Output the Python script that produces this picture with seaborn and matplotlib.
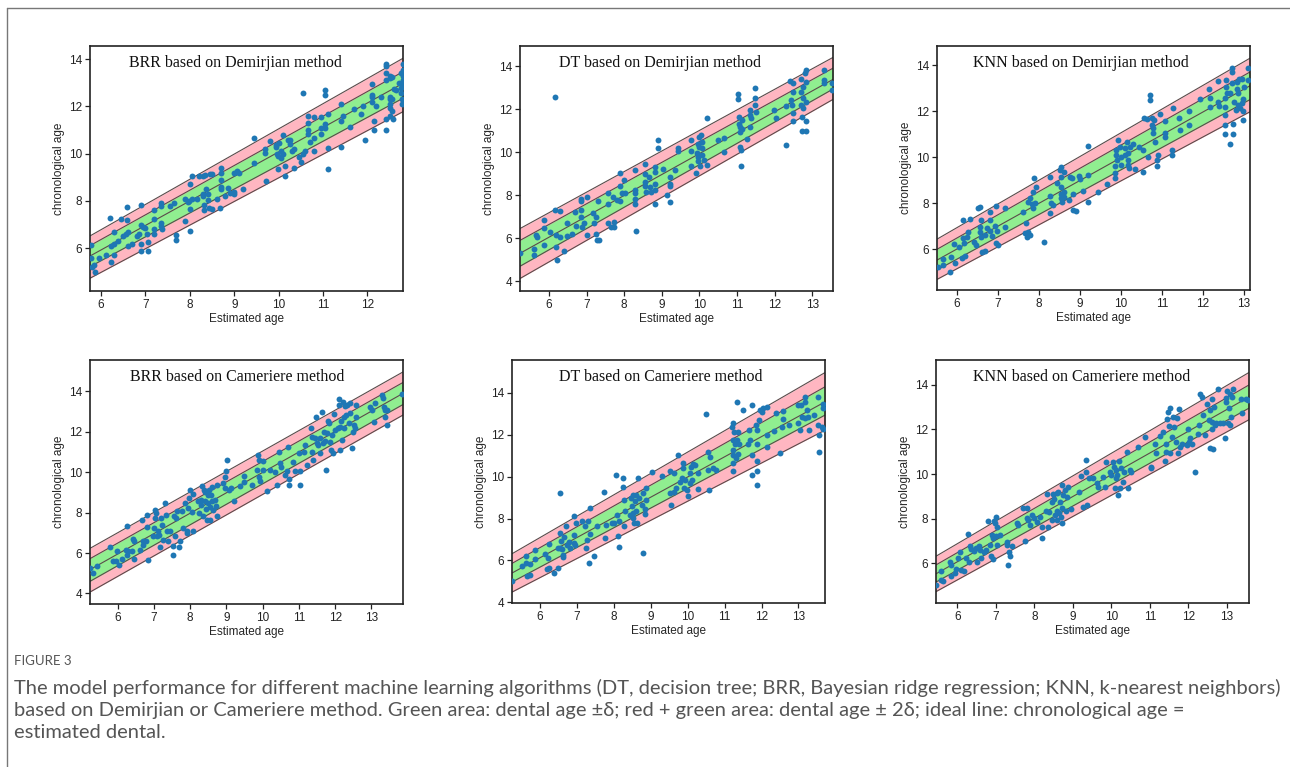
import matplotlib
matplotlib.use("Agg")
import matplotlib.pyplot as plt
from matplotlib.lines import Line2D
from matplotlib.ticker import MultipleLocator
import seaborn as sns

# ---------------- data ----------------
titles = ["BRR based on Demirjian method", "DT based on Demirjian method",
          "KNN based on Demirjian method", "BRR based on Cameriere method",
          "DT based on Cameriere method", "KNN based on Cameriere method"]

brr_dem_x = [5.78, 5.78, 5.8, 5.85, 5.87, 5.95, 6.1, 6.2, 6.22, 6.22,
             6.28, 6.3, 6.3, 6.38, 6.45, 6.5, 6.55, 6.58, 6.58, 6.6,
             6.6, 6.7, 6.8, 6.85, 6.9, 6.9, 6.9, 6.9, 6.95, 7.0,
             7.03, 7.05, 7.05, 7.2, 7.2, 7.2, 7.2, 7.35, 7.35, 7.35,
             7.35, 7.37, 7.55, 7.65, 7.68, 7.68, 7.9, 7.9, 7.95, 7.98,
             8.0, 8.0, 8.0, 8.05, 8.05, 8.15, 8.2, 8.3, 8.3, 8.3,
             8.32, 8.32, 8.35, 8.37, 8.4, 8.4, 8.42, 8.45, 8.5, 8.5,
             8.6, 8.7, 8.7, 8.7, 8.7, 8.7, 8.68, 8.8, 8.85, 8.9,
             9.0, 9.0, 9.0, 9.05, 9.1, 9.2, 9.45, 9.45, 9.7, 9.7,
             9.72, 9.8, 9.95, 9.95, 9.97, 9.98, 9.98, 10.0, 10.05, 10.05,
             10.1, 10.1, 10.15, 10.15, 10.2, 10.25, 10.25, 10.3, 10.35, 10.35,
             10.45, 10.5, 10.55, 10.55, 10.6, 10.65, 10.65, 10.65, 10.65, 10.7,
             10.8, 10.8, 10.8, 10.95, 10.95, 10.95, 11.05, 11.05, 11.05, 11.05,
             11.1, 11.1, 11.1, 11.4, 11.4, 11.4, 11.45, 11.6, 11.7, 11.85,
             11.9, 11.95, 12.1, 12.1, 12.1, 12.1, 12.15, 12.15, 12.2, 12.3,
             12.42, 12.42, 12.42, 12.42, 12.42, 12.42, 12.5, 12.5, 12.5, 12.5,
             12.5, 12.5, 12.5, 12.55, 12.55, 12.55, 12.58, 12.6, 12.65, 12.7,
             12.75, 12.75, 12.75, 12.78, 12.78, 12.8, 12.8, 12.8, 12.8, 12.8]
brr_dem_y = [6.15, 5.6, 5.2, 5.3, 5.0, 5.6, 5.7, 7.3, 6.1, 5.4,
             6.7, 6.2, 5.7, 6.3, 7.25, 6.5, 6.6, 7.75, 7.2, 6.7,
             6.1, 6.2, 6.5, 6.6, 7.85, 7.0, 6.2, 5.9, 6.9, 6.85,
             6.6, 6.25, 5.9, 7.6, 7.25, 6.8, 6.6, 7.9, 7.8, 7.05,
             6.95, 6.8, 7.8, 7.9, 6.55, 6.35, 7.15, 8.1, 7.95, 8.0,
             8.7, 7.65, 6.75, 8.1, 9.05, 8.1, 9.05, 9.05, 8.3, 8.2,
             7.85, 7.6, 9.1, 8.5, 8.3, 8.05, 7.7, 9.15, 9.15, 7.65,
             8.1, 9.4, 9.2, 8.9, 8.6, 8.5, 7.7, 8.2, 8.55, 8.35,
             9.2, 8.4, 8.3, 9.25, 9.2, 8.5, 10.65, 9.6, 10.2, 10.05,
             8.85, 10.55, 10.35, 10.3, 10.0, 9.9, 9.35, 10.45, 10.1, 9.8,
             10.8, 10.0, 9.5, 9.05, 10.6, 10.6, 10.4, 10.1, 9.4, 10.2,
             9.85, 9.65, 12.55, 10.0, 10.1, 11.6, 11.3, 11.0, 10.85, 10.5,
             11.55, 10.65, 10.1, 11.55, 11.1, 10.85, 12.7, 12.5, 11.25, 11.1,
             11.7, 10.25, 9.35, 12.1, 11.4, 10.3, 11.6, 11.15, 11.9, 11.7,
             12.0, 10.6, 12.95, 12.5, 12.4, 12.2, 11.4, 11.0, 12.0, 12.4,
             13.8, 13.7, 13.4, 13.1, 11.45, 11.0, 13.3, 13.2, 12.4, 12.3,
             12.1, 11.95, 11.6, 13.25, 12.3, 11.8, 11.45, 12.75, 12.7, 13.0,
             13.4, 12.8, 12.55, 12.3, 12.1, 13.8, 13.55, 13.3, 13.1, 12.9]

dt_dem_x = [5.22, 5.6, 5.6, 5.66, 5.69, 5.86, 5.86, 5.88, 6.03, 6.17,
            6.17, 6.2, 6.2, 6.21, 6.28, 6.3, 6.4, 6.48, 6.48, 6.6,
            6.7, 6.71, 6.84, 6.84, 6.84, 6.86, 6.87, 6.93, 7.0, 7.01,
            7.17, 7.2, 7.24, 7.26, 7.28, 7.33, 7.31, 7.56, 7.56, 7.56,
            7.64, 7.71, 7.72, 7.72, 7.8, 7.88, 7.9, 7.9, 7.93, 7.99,
            8.02, 8.28, 8.3, 8.3, 8.3, 8.3, 8.32, 8.55, 8.55, 8.55,
            8.55, 8.57, 8.67, 8.68, 8.72, 8.81, 8.83, 8.83, 8.83, 8.83,
            8.9, 8.9, 9.02, 9.13, 9.22, 9.22, 9.22, 9.22, 9.35, 9.44,
            9.44, 9.78, 9.78, 9.78, 9.9, 9.93, 9.95, 9.96, 9.97, 9.99,
            10.0, 10.02, 10.04, 10.08, 10.08, 10.08, 10.11, 10.2, 10.21, 10.5,
            10.64, 10.64, 11.03, 11.03, 11.06, 11.06, 11.07, 11.07, 11.09, 11.11,
            11.11, 11.13, 11.13, 11.26, 11.35, 11.35, 11.35, 11.38, 11.47, 11.47,
            11.47, 11.51, 11.97, 12.03, 12.3, 12.31, 12.42, 12.44, 12.47, 12.48,
            12.48, 12.48, 12.5, 12.7, 12.7, 12.7, 12.72, 12.72, 12.76, 12.76,
            12.76, 12.8, 12.82, 12.82, 12.84, 12.84, 12.84, 13.31, 13.31, 13.31,
            13.53, 13.53]
dt_dem_y = [5.33, 5.52, 5.2, 6.17, 6.06, 6.87, 6.48, 5.7, 6.3, 12.54,
            7.3, 6.14, 5.6, 4.98, 7.27, 6.06, 5.41, 6.72, 6.09, 6.22,
            7.22, 6.57, 7.75, 7.84, 7.3, 7.0, 6.53, 6.72, 7.9, 6.17,
            7.15, 6.71, 6.22, 7.0, 5.91, 5.91, 7.74, 8.1, 7.6, 6.71,
            6.5, 7.93, 6.76, 6.5, 7.8, 9.05, 8.43, 7.72, 8.08, 8.7,
            8.1, 8.08, 9.16, 8.23, 7.84, 7.58, 6.33, 9.47, 9.0, 8.62,
            8.42, 8.15, 8.85, 8.39, 8.15, 9.09, 9.29, 8.54, 8.23, 7.61,
            10.56, 10.17, 9.2, 8.03, 8.85, 8.54, 8.43, 7.69, 9.16, 10.2,
            10.07, 10.56, 10.07, 9.36, 9.05, 9.94, 9.78, 9.6, 10.4, 10.71,
            10.25, 9.34, 10.79, 10.48, 10.17, 9.86, 9.63, 11.6, 9.42, 10.56,
            10.64, 10.02, 12.7, 12.45, 11.61, 11.3, 11.15, 10.95, 10.25, 10.09,
            9.36, 11.49, 11.06, 10.59, 11.98, 11.72, 11.15, 11.57, 12.96, 12.53,
            12.19, 11.88, 11.95, 11.6, 12.16, 10.33, 13.32, 12.42, 12.19, 12.81,
            11.8, 11.44, 13.22, 13.38, 12.81, 12.19, 11.61, 10.99, 13.04, 12.5,
            12.03, 13.66, 13.81, 13.27, 12.34, 11.44, 10.99, 13.81, 13.35, 13.19,
            13.19, 12.88]

knn_dem_x = [5.54, 5.66, 5.66, 5.82, 5.84, 5.92, 5.94, 6.04, 6.12, 6.15,
             6.15, 6.18, 6.2, 6.24, 6.26, 6.31, 6.41, 6.45, 6.5, 6.55,
             6.55, 6.57, 6.58, 6.59, 6.61, 6.67, 6.69, 6.73, 6.8, 6.81,
             6.81, 6.85, 6.92, 6.96, 6.96, 6.97, 6.99, 7.18, 7.18, 7.62,
             7.66, 7.69, 7.7, 7.73, 7.73, 7.77, 7.79, 7.83, 7.85, 7.85,
             7.87, 7.91, 7.93, 8.13, 8.26, 8.26, 8.27, 8.29, 8.33, 8.44,
             8.52, 8.53, 8.53, 8.54, 8.54, 8.54, 8.56, 8.6, 8.6, 8.61,
             8.74, 8.76, 8.8, 8.82, 8.84, 8.91, 8.98, 9.0, 9.07, 9.2,
             9.19, 9.19, 9.43, 9.65, 9.86, 9.86, 9.86, 9.87, 9.88, 9.9,
             9.94, 9.98, 10.0, 10.0, 10.1, 10.1, 10.14, 10.16, 10.18, 10.18,
             10.2, 10.22, 10.29, 10.34, 10.45, 10.55, 10.55, 10.56, 10.63, 10.67,
             10.71, 10.71, 10.75, 10.77, 10.79, 10.79, 10.81, 10.83, 10.87, 10.87,
             10.91, 10.95, 11.07, 11.07, 11.07, 11.24, 11.24, 11.26, 11.42, 11.44,
             11.67, 11.67, 11.92, 12.15, 12.17, 12.17, 12.37, 12.37, 12.4, 12.53,
             12.53, 12.53, 12.53, 12.53, 12.57, 12.57, 12.59, 12.66, 12.66, 12.72,
             12.72, 12.72, 12.74, 12.74, 12.75, 12.82, 12.83, 12.84, 12.86, 12.86,
             12.88, 12.9, 12.96, 12.96, 12.98, 12.98, 12.99, 13.0, 13.1, 13.1]
knn_dem_y = [5.23, 5.55, 5.3, 5.01, 5.67, 6.22, 5.41, 6.1, 5.59, 7.26,
             6.46, 6.25, 5.7, 6.54, 6.75, 7.29, 6.32, 6.17, 7.77, 7.84,
             6.97, 6.75, 6.54, 7.26, 5.88, 5.93, 6.61, 6.9, 6.8, 7.26,
             7.62, 6.57, 7.01, 6.28, 7.88, 6.8, 6.17, 7.77, 6.97, 7.62,
             6.72, 7.14, 6.51, 8.06, 6.75, 6.61, 8.2, 7.96, 8.49, 7.77,
             9.07, 7.99, 8.71, 6.32, 9.14, 8.3, 7.58, 8.01, 7.91, 8.86,
             9.43, 9.58, 9.14, 8.71, 8.39, 8.2, 8.06, 9.36, 8.49, 8.28,
             8.13, 9.14, 9.07, 8.39, 7.69, 7.67, 9.17, 9.03, 8.54, 10.5,
             9.22, 8.06, 8.49, 8.83, 9.61, 9.32, 9.07, 10.3, 10.09, 9.87,
             10.74, 10.45, 10.01, 9.65, 10.38, 10.09, 10.67, 9.87, 10.16, 9.65,
             9.51, 10.45, 10.59, 9.46, 10.42, 10.3, 9.36, 11.72, 11.64, 10.01,
             12.7, 12.48, 11.68, 11.39, 11.25, 11.03, 11.61, 10.67, 9.87, 9.61,
             10.09, 11.87, 11.58, 11.06, 10.88, 10.3, 10.09, 12.12, 11.68, 11.17,
             12.01, 11.39, 12.51, 12.94, 12.59, 12.19, 13.32, 12.41, 12.22, 12.55,
             12.19, 11.39, 11.0, 11.83, 13.35, 13.06, 12.8, 12.77, 10.59, 13.86,
             13.68, 13.2, 11.46, 11.0, 12.41, 12.04, 12.94, 13.28, 12.77, 12.26,
             13.38, 12.12, 13.38, 12.36, 12.01, 11.61, 12.51, 13.06, 13.86, 13.35]

brr_cam_x = [5.24, 5.31, 5.44, 5.79, 5.88, 5.95, 5.99, 6.05, 6.11, 6.23,
             6.27, 6.27, 6.29, 6.41, 6.43, 6.45, 6.45, 6.62, 6.66, 6.69,
             6.71, 6.78, 6.8, 6.82, 6.83, 6.99, 7.01, 7.03, 7.03, 7.06,
             7.08, 7.12, 7.15, 7.17, 7.19, 7.22, 7.26, 7.31, 7.34, 7.35,
             7.38, 7.45, 7.52, 7.54, 7.56, 7.58, 7.61, 7.65, 7.7, 7.72,
             7.77, 7.8, 7.86, 7.91, 7.92, 7.95, 7.97, 8.0, 8.04, 8.09,
             8.09, 8.23, 8.25, 8.29, 8.31, 8.34, 8.35, 8.38, 8.41, 8.41,
             8.43, 8.46, 8.49, 8.5, 8.53, 8.55, 8.55, 8.57, 8.6, 8.6,
             8.62, 8.69, 8.72, 8.73, 8.75, 8.92, 8.95, 8.97, 8.98, 9.03,
             9.08, 9.13, 9.21, 9.38, 9.49, 9.49, 9.7, 9.84, 9.86, 9.89,
             9.89, 9.93, 10.0, 10.0, 10.13, 10.19, 10.34, 10.39, 10.44, 10.47,
             10.5, 10.62, 10.67, 10.69, 10.74, 10.74, 10.85, 10.9, 10.99, 11.02,
             11.04, 11.15, 11.17, 11.22, 11.34, 11.36, 11.36, 11.4, 11.45, 11.48,
             11.5, 11.54, 11.57, 11.59, 11.64, 11.67, 11.69, 11.73, 11.76, 11.78,
             11.8, 11.82, 11.87, 11.88, 11.91, 11.94, 11.98, 12.0, 12.07, 12.1,
             12.1, 12.12, 12.14, 12.16, 12.19, 12.22, 12.23, 12.25, 12.28, 12.31,
             12.33, 12.37, 12.4, 12.42, 12.47, 12.49, 12.51, 12.56, 12.58, 12.58,
             12.97, 13.02, 13.06, 13.11, 13.29, 13.32, 13.34, 13.36, 13.38, 13.43,
             13.43, 13.85]
brr_cam_y = [5.26, 5.02, 5.35, 6.3, 5.59, 5.59, 6.12, 5.43, 5.72, 6.17,
             7.32, 5.92, 6.09, 6.09, 6.69, 6.58, 5.72, 6.17, 7.65, 6.41,
             6.58, 6.58, 7.27, 7.89, 5.67, 6.82, 7.23, 8.14, 7.73, 7.97,
             6.82, 7.07, 6.91, 6.28, 7.73, 7.4, 6.66, 8.47, 7.89, 7.07,
             6.58, 7.07, 6.33, 5.92, 7.81, 6.82, 7.73, 8.06, 6.28, 6.61,
             8.09, 7.23, 8.47, 7.07, 6.99, 8.22, 8.71, 9.12, 8.02, 7.07,
             8.91, 8.55, 7.97, 8.38, 8.63, 9.29, 7.81, 9.12, 9.04, 8.55,
             8.19, 7.65, 8.88, 8.47, 9.12, 8.25, 7.65, 8.88, 8.55, 9.24,
             8.14, 8.6, 8.3, 9.37, 7.81, 9.45, 9.21, 9.78, 10.06, 10.6,
             9.12, 9.21, 8.55, 9.29, 9.83, 9.53, 9.37, 10.11, 10.85, 10.6,
             9.78, 9.57, 10.55, 10.11, 9.07, 10.11, 9.99, 9.37, 11.01, 10.44,
             10.27, 9.86, 10.03, 11.26, 9.65, 9.37, 10.52, 10.03, 10.93, 9.37,
             10.03, 10.98, 11.34, 10.36, 12.16, 11.75, 11.01, 10.6, 11.7, 12.74,
             11.42, 11.34, 11.7, 10.93, 12.98, 11.42, 12.0, 11.54, 10.11, 11.92,
             12.52, 12.41, 11.47, 11.1, 11.83, 10.93, 12.85, 12.08, 12.16, 13.61,
             13.31, 11.1, 12.24, 12.52, 11.59, 13.47, 12.74, 12.19, 13.28, 12.82,
             13.34, 12.41, 13.39, 12.9, 11.18, 12.0, 12.33, 12.19, 13.31, 12.74,
             13.23, 13.06, 12.49, 13.39, 13.8, 13.64, 13.23, 13.06, 12.74, 13.06,
             12.33, 13.84]

dt_cam_x = [5.24, 5.51, 5.63, 5.63, 5.65, 5.72, 5.74, 5.86, 5.86, 6.14,
            6.19, 6.21, 6.23, 6.25, 6.39, 6.48, 6.48, 6.53, 6.55, 6.55,
            6.57, 6.6, 6.62, 6.62, 6.66, 6.69, 6.73, 6.78, 6.8, 6.91,
            6.91, 6.93, 6.96, 6.98, 7.14, 7.23, 7.25, 7.27, 7.29, 7.32,
            7.34, 7.36, 7.45, 7.54, 7.72, 7.77, 7.78, 7.95, 7.99, 8.06,
            8.08, 8.1, 8.13, 8.15, 8.26, 8.26, 8.28, 8.28, 8.31, 8.44,
            8.47, 8.5, 8.53, 8.53, 8.53, 8.55, 8.58, 8.6, 8.61, 8.62,
            8.65, 8.67, 8.77, 8.78, 8.8, 8.85, 8.85, 8.88, 8.88, 9.03,
            9.3, 9.51, 9.53, 9.55, 9.63, 9.63, 9.69, 9.75, 9.8, 9.85,
            9.86, 9.87, 9.9, 9.93, 9.98, 10.02, 10.05, 10.07, 10.08, 10.11,
            10.14, 10.2, 10.27, 10.29, 10.5, 10.54, 10.54, 10.59, 10.61, 10.68,
            10.77, 11.21, 11.22, 11.23, 11.24, 11.24, 11.24, 11.24, 11.26, 11.28,
            11.3, 11.33, 11.33, 11.35, 11.37, 11.4, 11.51, 11.64, 11.67, 11.69,
            11.73, 11.73, 11.73, 11.85, 11.87, 11.87, 11.87, 11.87, 11.87, 11.92,
            11.96, 12.01, 12.05, 12.14, 12.14, 12.16, 12.34, 12.39, 12.5, 12.55,
            12.57, 12.57, 12.74, 13.0, 13.0, 13.04, 13.07, 13.11, 13.18, 13.18,
            13.18, 13.22, 13.27, 13.29, 13.43, 13.54, 13.54, 13.56, 13.56, 13.63,
            13.66, 13.66, 13.67]
dt_cam_y = [5.01, 5.73, 6.2, 5.89, 5.25, 5.33, 5.81, 6.52, 6.09, 6.31,
            5.57, 6.12, 6.8, 5.65, 5.41, 5.65, 6.6, 6.6, 9.21, 7.31,
            6.92, 6.55, 6.28, 6.16, 7.11, 7.63, 6.76, 6.88, 6.6, 8.1,
            7.23, 6.84, 6.76, 7.79, 7.9, 7.63, 6.6, 7.0, 7.87, 5.89,
            8.5, 7.28, 6.2, 7.63, 9.29, 7.07, 7.71, 7.79, 7.79, 10.09,
            8.18, 7.15, 6.63, 7.87, 9.93, 9.53, 8.9, 7.63, 8.34, 8.18,
            8.98, 8.58, 9.13, 8.26, 8.02, 7.79, 8.82, 9.13, 8.37, 7.79,
            9.93, 8.98, 8.63, 6.36, 9.21, 8.45, 8.21, 8.9, 9.45, 10.21,
            10.01, 10.28, 9.21, 8.66, 10.17, 9.29, 9.45, 11.04, 9.77, 9.96,
            10.4, 10.64, 9.45, 9.85, 9.37, 9.06, 10.17, 9.69, 10.48, 9.85,
            10.59, 10.56, 9.42, 10.17, 12.97, 11.19, 10.32, 9.37, 10.96, 10.4,
            10.32, 12.38, 11.75, 11.27, 12.54, 11.04, 10.64, 10.28, 12.15, 11.54,
            10.88, 13.57, 11.75, 12.12, 11.07, 11.58, 13.18, 11.58, 12.22, 11.75,
            13.41, 10.09, 11.04, 12.46, 12.22, 11.58, 10.75, 10.28, 9.61, 12.7,
            13.18, 13.1, 13.29, 13.33, 11.99, 11.43, 12.18, 13.06, 11.12, 12.38,
            12.75, 13.14, 12.49, 13.41, 12.54, 12.22, 13.41, 12.86, 13.81, 13.57,
            12.78, 13.18, 12.86, 12.22, 12.94, 13.81, 12.46, 11.99, 11.16, 12.38,
            13.49, 13.26, 12.3]

knn_cam_x = [5.46, 5.57, 5.59, 5.62, 5.81, 5.83, 5.85, 5.94, 5.98, 6.03,
             6.07, 6.09, 6.17, 6.24, 6.29, 6.31, 6.33, 6.37, 6.44, 6.48,
             6.52, 6.57, 6.6, 6.63, 6.69, 6.76, 6.8, 6.85, 6.87, 6.89,
             6.92, 6.93, 6.95, 6.98, 7.0, 7.0, 7.02, 7.04, 7.11, 7.28,
             7.29, 7.32, 7.35, 7.38, 7.41, 7.56, 7.58, 7.71, 7.75, 7.8,
             7.82, 7.84, 7.88, 7.95, 7.99, 8.06, 8.14, 8.19, 8.21, 8.3,
             8.32, 8.36, 8.39, 8.45, 8.46, 8.49, 8.51, 8.53, 8.58, 8.58,
             8.6, 8.62, 8.64, 8.66, 8.68, 8.71, 8.71, 8.73, 8.75, 8.79,
             8.82, 8.84, 8.88, 8.94, 9.16, 9.2, 9.27, 9.34, 9.35, 9.37,
             9.42, 9.53, 9.63, 9.66, 9.79, 9.83, 9.85, 9.96, 9.98, 10.03,
             10.06, 10.09, 10.11, 10.13, 10.15, 10.17, 10.2, 10.22, 10.26, 10.29,
             10.33, 10.41, 10.43, 10.48, 10.52, 10.69, 10.87, 11.04, 11.04, 11.14,
             11.15, 11.26, 11.34, 11.38, 11.41, 11.42, 11.44, 11.47, 11.5, 11.51,
             11.53, 11.58, 11.6, 11.62, 11.67, 11.7, 11.73, 11.76, 11.77, 11.84,
             11.95, 11.99, 12.02, 12.05, 12.1, 12.16, 12.25, 12.28, 12.3, 12.36,
             12.38, 12.42, 12.48, 12.53, 12.55, 12.57, 12.6, 12.62, 12.62, 12.64,
             12.66, 12.68, 12.72, 12.77, 12.81, 12.9, 12.94, 12.97, 12.98, 13.0,
             13.03, 13.05, 13.07, 13.09, 13.11, 13.14, 13.16, 13.37, 13.4, 13.5,
             13.55]
knn_cam_y = [5.03, 5.66, 5.25, 5.18, 6.07, 5.9, 5.43, 5.55, 5.73, 6.22,
             6.52, 5.7, 5.66, 6.25, 7.3, 6.07, 6.79, 6.64, 6.55, 6.7,
             6.07, 6.75, 6.6, 6.25, 6.52, 6.6, 7.87, 6.82, 6.3, 7.27,
             6.19, 7.12, 7.87, 7.79, 8.09, 7.24, 6.82, 7.64, 7.27, 6.94,
             6.82, 5.9, 6.52, 6.34, 6.75, 7.79, 7.72, 8.49, 7.0, 8.49,
             8.04, 7.94, 7.72, 8.16, 8.01, 7.84, 8.09, 7.15, 7.64, 8.34,
             9.09, 7.64, 8.31, 7.94, 8.76, 9.09, 8.88, 8.16, 9.13, 8.34,
             7.94, 9.21, 8.24, 8.76, 8.09, 9.51, 7.79, 8.46, 9.06, 9.28,
             8.34, 8.99, 9.43, 8.43, 9.21, 9.93, 8.54, 10.63, 10.07, 8.61,
             9.84, 9.81, 9.58, 9.43, 9.88, 9.43, 10.52, 10.1, 9.96, 10.55,
             10.33, 9.36, 9.81, 10.18, 9.96, 9.06, 10.58, 9.39, 10.25, 9.66,
             10.1, 11.0, 9.39, 10.18, 10.1, 11.22, 11.67, 10.33, 10.25, 11.33,
             10.93, 11.7, 11.9, 10.58, 11.0, 11.37, 12.49, 12.79, 12.15, 10.93,
             12.97, 11.67, 12.57, 12.12, 11.45, 12.52, 10.93, 12.91, 11.22, 11.37,
             11.3, 12.04, 11.42, 11.6, 11.37, 10.1, 11.82, 12.19, 13.61, 13.46,
             12.64, 11.75, 13.16, 12.42, 12.87, 11.15, 12.34, 13.39, 12.04, 11.12,
             13.01, 12.19, 12.27, 13.84, 12.27, 12.27, 11.6, 13.24, 13.42, 13.72,
             12.27, 12.97, 13.61, 12.19, 12.57, 13.46, 13.84, 13.39, 12.72, 13.39,
             13.31]

# x limits of each panel (the bands run across the full width)
x_limits = [(5.75, 12.8), (5.23, 13.55), (5.51, 13.15),
            (5.24, 13.87), (5.24, 13.72), (5.45, 13.57)]
y_limits = [(4.19, 14.56), (3.55, 14.93), (4.22, 14.83),
            (3.48, 15.54), (3.97, 15.57), (4.21, 15.12)]
# band lines at the left / right edge: [-2d, -d, ideal, +d, +2d]
band_left = [[4.73, 5.22, 5.67, 6.11, 6.52], [4.13, 4.7, 5.3, 5.9, 6.45],
             [4.68, 5.09, 5.52, 5.99, 6.43], [4.07, 4.6, 5.18, 5.72, 6.23],
             [4.49, 4.97, 5.4, 5.86, 6.32], [4.72, 5.15, 5.52, 5.92, 6.31]]
band_right = [[11.78, 12.35, 12.98, 13.47, 14.04], [12.45, 12.93, 13.38, 13.9, 14.4],
              [11.97, 12.5, 13.1, 13.7, 14.3], [12.82, 13.34, 13.89, 14.43, 14.95],
              [12.22, 12.94, 13.57, 14.29, 14.97], [12.44, 12.96, 13.46, 14.0, 14.56]]

points_x = [brr_dem_x, dt_dem_x, knn_dem_x, brr_cam_x, dt_cam_x, knn_cam_x]
points_y = [brr_dem_y, dt_dem_y, knn_dem_y, brr_cam_y, dt_cam_y, knn_cam_y]

# axes boxes in pixels: left, top, right, bottom
boxes = [(90, 46, 403, 291), (520, 46, 833, 291), (937, 46, 1250, 290),
         (90, 360, 403, 604), (512, 360, 825, 603), (936, 360, 1249, 603)]
title_xpos = [0.466, 0.446, 0.46, 0.47, 0.474, 0.466]

# ---------------- drawing ----------------
sns.set_style("ticks")
plt.rcParams['font.family'] = ['Liberation Sans', 'DejaVu Sans']

W, H = 1290, 767
fig = plt.figure(figsize=(W / 100, H / 100), dpi=100)

for i in range(6):
    l, t, r, b = boxes[i]
    ax = fig.add_axes([l / W, 1 - b / H, (r - l) / W, (b - t) / H])
    xs = list(x_limits[i])
    lo2, lo1, mid, hi1, hi2 = [[band_left[i][k], band_right[i][k]] for k in range(5)]

    ax.fill_between(xs, lo2, hi2, color='#ffb6c1', lw=0, zorder=1)
    ax.fill_between(xs, lo1, hi1, color='#90ee90', lw=0, zorder=1.5)
    for line in (lo2, lo1, mid, hi1, hi2):
        ax.plot(xs, line, color='#5a4a4a', lw=0.8, zorder=2)

    sns.scatterplot(x=points_x[i], y=points_y[i], ax=ax, color='#1f77b4',
                    s=18, linewidth=0, zorder=3)

    ax.set_xlim(*x_limits[i])
    ax.set_ylim(*y_limits[i])
    ax.xaxis.set_major_locator(MultipleLocator(1))
    ax.yaxis.set_major_locator(MultipleLocator(2))
    ax.tick_params(labelsize=8.5, length=3.5, width=0.9, colors='#222222', pad=2)
    for sp in ax.spines.values():
        sp.set_linewidth(1.2)
        sp.set_color('#222222')
    ax.set_xlabel('Estimated age', fontsize=8.5, labelpad=2)
    ax.set_ylabel('chronological age', fontsize=8.5, labelpad=3)
    ax.text(title_xpos[i], 0.932, titles[i], transform=ax.transAxes,
            ha='center', va='center', fontsize=11.5, color='#111111',
            family=['Liberation Serif', 'DejaVu Serif'])

# page frame
fig.add_artist(Line2D([7 / W, 1], [1 - 7.5 / H] * 2, color='#777777', lw=1))
fig.add_artist(Line2D([7 / W] * 2, [0, 1 - 7.5 / H], color='#777777', lw=1))

# caption
cap_font = ['Lato', 'DejaVu Sans']
fig.text(14 / W, 1 - 661 / H, 'FIGURE 3', fontsize=9.5, color='#555555',
         va='center', family=cap_font)
caption = ["The model performance for different machine learning algorithms (DT, decision tree; "
           "BRR, Bayesian ridge regression; KNN, k-nearest neighbors)",
           "based on Demirjian or Cameriere method. Green area: dental age \u00b1\u03b4; red + green "
           "area: dental age \u00b1 2\u03b4; ideal line: chronological age =",
           "estimated dental."]
for k, line in enumerate(caption):
    fig.text(14 / W, 1 - (688 + 22.5 * k) / H, line, fontsize=14.5, color='#555555',
             va='center', family=cap_font)

fig.savefig('out.png', dpi=100)
